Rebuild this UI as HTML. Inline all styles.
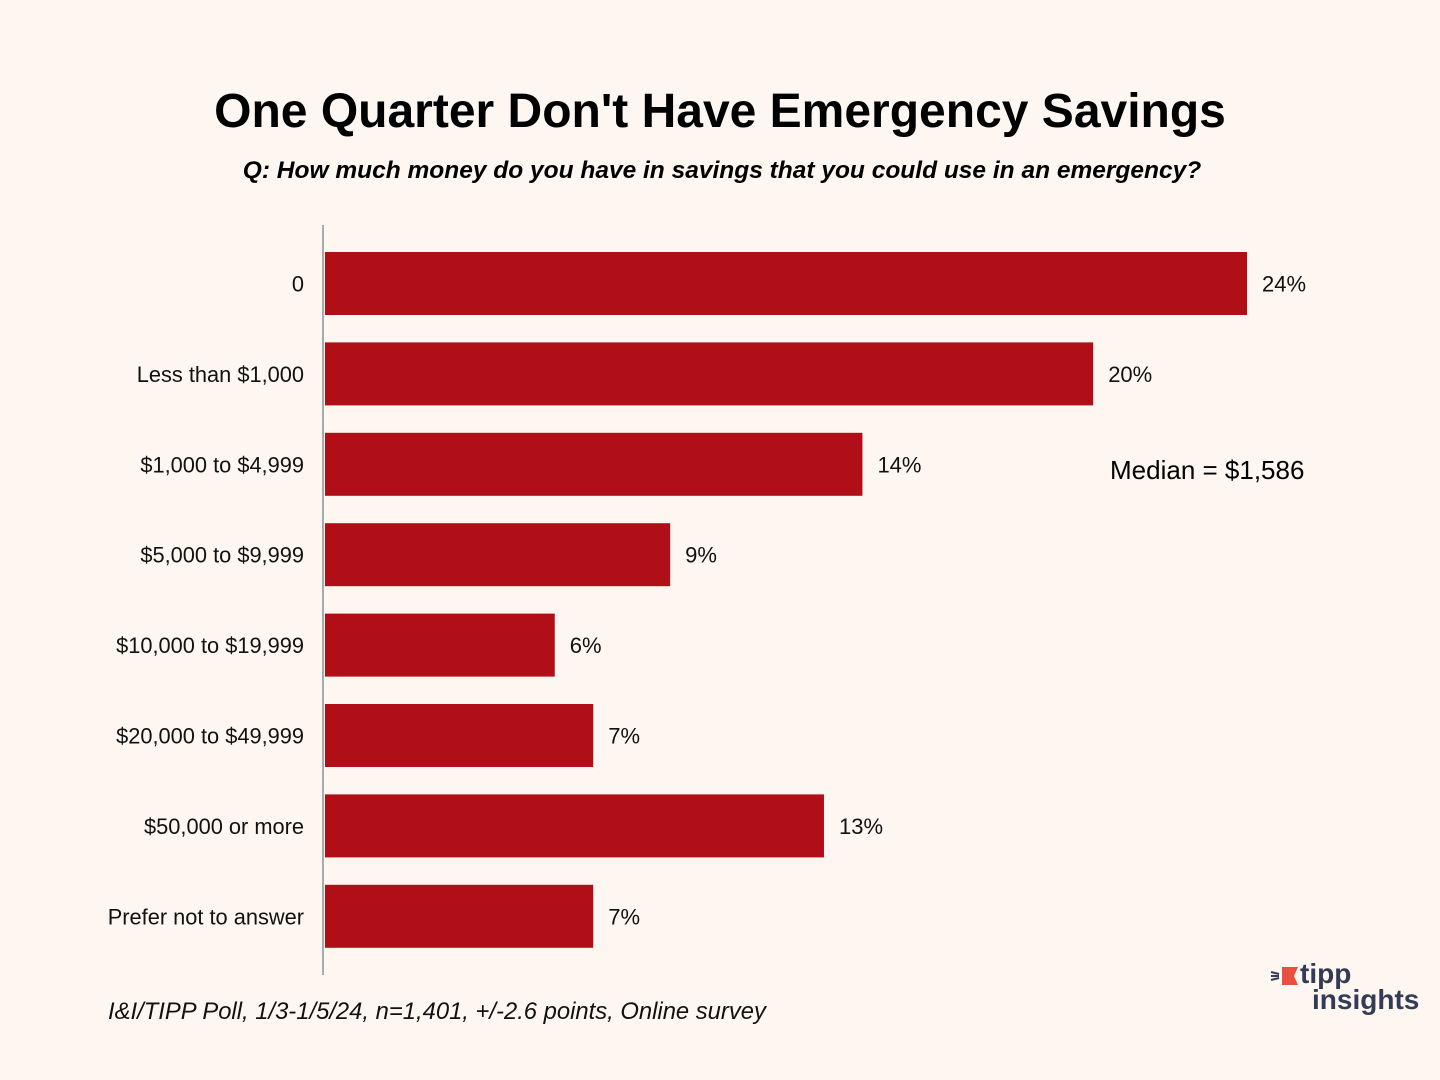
<!DOCTYPE html>
<html><head><meta charset="utf-8"><style>
body{margin:0;background:#fdf6f1;}
#c{position:relative;width:1440px;height:1080px;background:#fdf6f1;font-family:"Liberation Sans",sans-serif;overflow:hidden}
.t{position:absolute;white-space:nowrap}
</style></head><body>
<div id="c">
<div class="t" style="left:0;width:1440px;text-align:center;top:84px;font-size:48px;font-weight:bold;color:#000">One Quarter Don't Have Emergency Savings</div>
<div class="t" style="left:0;width:1444px;text-align:center;top:157px;font-size:24.5px;font-weight:bold;font-style:italic;color:#000">Q: How much money do you have in savings that you could use in an emergency?</div>
<div class="t" style="left:1110px;top:455px;font-size:26px;color:#000">Median = $1,586</div>
<div class="t" style="left:108px;top:998px;font-size:23.8px;font-style:italic;color:#111">I&amp;I/TIPP Poll, 1/3-1/5/24, n=1,401, +/-2.6 points, Online survey</div>
<div style="position:absolute;left:1270px;top:963px">
<svg width="40" height="30"><polygon points="12,4 28,4 24,13 28,22 12,22" fill="#e8503f"/><line x1="1" y1="9" x2="9" y2="11" stroke="#333b55" stroke-width="2"/><line x1="1" y1="13" x2="9" y2="13" stroke="#333b55" stroke-width="2"/><line x1="1" y1="17" x2="9" y2="15" stroke="#333b55" stroke-width="2"/></svg>
<div class="t" style="left:30px;top:-5px;font-size:28px;font-weight:bold;color:#333b55">tipp</div>
<div class="t" style="left:42px;top:21px;font-size:28px;font-weight:bold;color:#333b55">insights</div>
</div>
<svg id="s" width="1440" height="1080" style="position:absolute;left:0;top:0"></svg>
</div>
<script>
const categories=["0","Less than $1,000","$1,000 to $4,999","$5,000 to $9,999","$10,000 to $19,999","$20,000 to $49,999","$50,000 or more","Prefer not to answer"];
const values=[24,20,14,9,6,7,13,7];
const labels=["24%","20%","14%","9%","6%","7%","13%","7%"];
const ns="http://www.w3.org/2000/svg";
const s=document.getElementById('s');
const x0=324,pxPer=38.46,top0=252,step=90.4,bh=63;
const xs=v=>x0+v*pxPer;
const ys=i=>top0+i*step;
function mk(t,a){const e=document.createElementNS(ns,t);for(const k in a)e.setAttribute(k,a[k]);s.appendChild(e);return e;}
const ax=mk('line',{x1:323,y1:225,x2:323,y2:975,stroke:'#aaa','stroke-width':2});


categories.forEach((c,i)=>{
 const r=mk('rect',{x:x0+1,y:ys(i),width:xs(values[i])-x0-1,height:bh,fill:'#b10f17'});
 
 
 const t=mk('text',{x:304,y:ys(i)+bh/2+8,'text-anchor':'end','font-size':21.8,fill:'#111','font-family':'Liberation Sans, sans-serif'});
 t.textContent=c;
 
 
 const v=mk('text',{x:xs(values[i])+15,y:ys(i)+bh/2+8,'font-size':22,fill:'#111','font-family':'Liberation Sans, sans-serif'});
 v.textContent=labels[i];
 
 
});
</script>
</body></html>
